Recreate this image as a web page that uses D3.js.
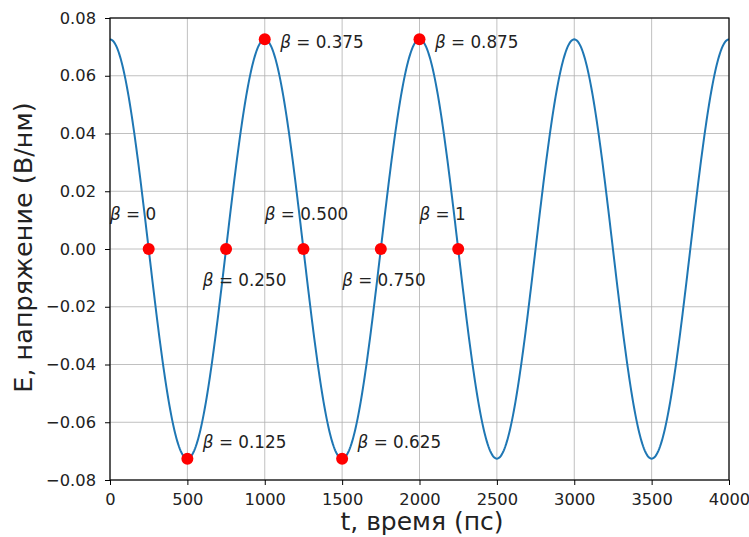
<!DOCTYPE html>
<html>
<head>
<meta charset="utf-8">
<script src="https://cdn.jsdelivr.net/npm/d3@7"></script>
<style>
body { margin: 0; background: #fff; }
text { font-family: "DejaVu Sans", sans-serif; }
</style>
</head>
<body>
<script>
var W = 749, H = 537;
var amp = 0.0726, period = 1000;

var pointT = [250, 500, 750, 1000, 1250, 1500, 1750, 2000, 2250];
var pointE = [0, -0.0726, 0, 0.0726, 0, -0.0726, 0, 0.0726, 0];
var labels = ["0", "0.125", "0.250", "0.375", "0.500", "0.625", "0.750", "0.875", "1"];
var labelT = [0, 600, 600, 1100, 1000, 1600, 1500, 2100, 2000];
var labelE = [0.01, -0.069, -0.0128, 0.0696, 0.01, -0.069, -0.0128, 0.0696, 0.01];
var xTicks = [0, 500, 1000, 1500, 2000, 2500, 3000, 3500, 4000];
var yTicks = [-0.08, -0.06, -0.04, -0.02, 0, 0.02, 0.04, 0.06, 0.08];

var mLeft = 110, mRight = 729, mTop = 18, mBottom = 480;

var x = d3.scaleLinear().domain([0, 4000]).range([mLeft, mRight]);
var y = d3.scaleLinear().domain([-0.08, 0.08]).range([mBottom, mTop]);

var svg = d3.select("body").append("svg")
	.attr("width", W)
	.attr("height", H);

// grid
svg.append("g")
	.selectAll("line")
	.data(xTicks)
	.enter()
	.append("line")
	.attr("x1", function(d){ return x(d); })
	.attr("x2", function(d){ return x(d); })
	.attr("y1", mTop)
	.attr("y2", mBottom)
	.attr("stroke", "#b0b0b0")
	.attr("stroke-width", 0.8);

svg.append("g")
	.selectAll("line")
	.data(yTicks)
	.enter()
	.append("line")
	.attr("x1", mLeft)
	.attr("x2", mRight)
	.attr("y1", function(d){ return y(d); })
	.attr("y2", function(d){ return y(d); })
	.attr("stroke", "#b0b0b0")
	.attr("stroke-width", 0.8);

// curve: cosine with the amplitude and period
var fine = d3.range(0, 4001, 5);
var line = d3.line()
	.x(function(d){ return x(d); })
	.y(function(d){ return y(amp * Math.cos(2 * Math.PI * d / period)); });

svg.append("path")
	.datum(fine)
	.attr("fill", "none")
	.attr("stroke", "#1f77b4")
	.attr("stroke-width", 2)
	.attr("d", line);

// red points
svg.append("g")
	.selectAll("circle")
	.data(pointT)
	.enter()
	.append("circle")
	.attr("cx", function(d){ return x(d); })
	.attr("cy", function(d, i){ return y(pointE[i]); })
	.attr("r", 6)
	.attr("fill", "#ff0000");

// labels
var lab = svg.append("g")
	.selectAll("text")
	.data(labels)
	.enter()
	.append("text")
	.attr("x", function(d, i){ return x(labelT[i]); })
	.attr("y", function(d, i){ return y(labelE[i]); })
	.attr("font-size", 16.8)
	.attr("fill", "#222");
lab.append("tspan").attr("font-style", "italic").text("β");
lab.append("tspan").text(function(d){ return " = " + d; });

// axes
var fmt = function(d){ return d3.format(".2f")(d).replace("-", "\u2212"); };
var xAxis = svg.append("g")
	.attr("transform", "translate(0," + mBottom + ")")
	.call(d3.axisBottom(x).tickValues(xTicks).tickSize(5).tickPadding(8).tickFormat(d3.format("d")));
var yAxis = svg.append("g")
	.attr("transform", "translate(" + mLeft + ",0)")
	.call(d3.axisLeft(y).tickValues(yTicks).tickSize(5).tickPadding(9).tickFormat(fmt));

[xAxis, yAxis].forEach(function(a){
	a.select(".domain").remove();
	a.selectAll("text").attr("font-size", 16.3).attr("fill", "#222").style("font-family", "DejaVu Sans");
	a.selectAll("line").attr("stroke", "#000");
});

svg.append("rect")
	.attr("x", mLeft)
	.attr("y", mTop)
	.attr("width", mRight - mLeft)
	.attr("height", mBottom - mTop)
	.attr("fill", "none")
	.attr("stroke", "#000")
	.attr("stroke-width", 1.2);

svg.append("text")
	.attr("x", 422)
	.attr("y", 530)
	.attr("text-anchor", "middle")
	.attr("font-size", 25)
	.attr("fill", "#222")
	.text("t, время (пс)");

svg.append("text")
	.attr("transform", "translate(32,247.5) rotate(-90)")
	.attr("text-anchor", "middle")
	.attr("font-size", 25.5)
	.attr("fill", "#222")
	.text("E, напряжение (В/нм)");
</script>
</body>
</html>
